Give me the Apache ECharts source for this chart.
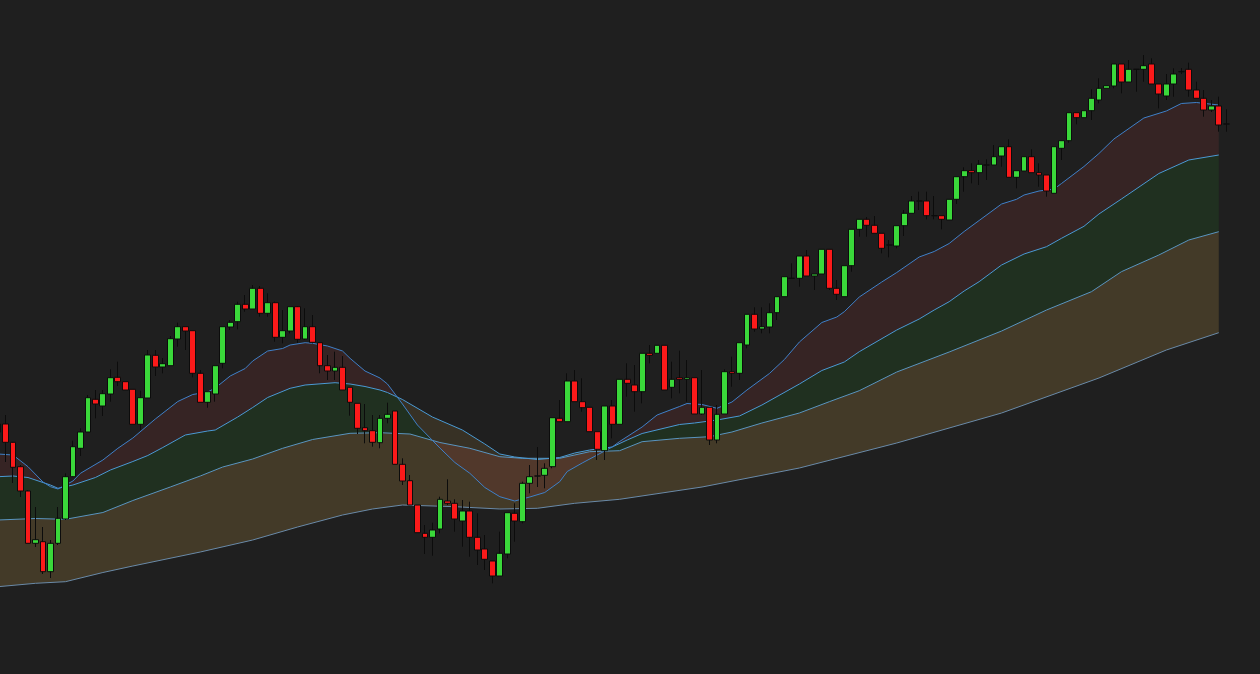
<!DOCTYPE html>
<html>
<head>
<meta charset="utf-8">
<script src="https://cdn.jsdelivr.net/npm/echarts@6/dist/echarts.min.js"></script>
<style>
html,body{margin:0;padding:0;background:#1f1f1f;}
#chart{width:1260px;height:674px;}
</style>
</head>
<body>
<div id="chart"></div>
<script>
// Candle values (price units, higher = up)
var opens = [241.7,250,231.7,207.3,183,130.7,132.3,102.3,130.7,155,197.3,225.7,242,274.7,268,280,296.7,292.3,284.7,249.7,
276,318.7,307,308.3,335,347.3,343.3,300.7,271.7,280,310.7,347,352.3,369.7,365,385.7,360.7,371.3,336.7,343,
367.3,335,347.3,331.3,308.3,303,306.7,286.7,270.7,246.3,243.3,231.3,255.7,263,209.7,193.3,169,140.7,136.7,145,
173,170.7,153,163,136.7,125,113,98,120,160.7,152.3,190.7,198,198.7,207.3,255.7,252.3,293,272.3,266.7,
242.3,223.3,268,249.7,294.7,289,282.3,320.7,320.7,328.7,286.7,296.3,294.7,296.3,260,266.7,234,260,302.3,300.7,
329,359.7,345,347,361.3,377.3,395.7,395.7,418,398,400,424.7,385.7,377.3,408.3,444.7,454.7,448.7,440.7,429,
428,448.3,460.7,473,473,458.3,458.3,454,474.7,497.3,503.3,501.3,509,509,518,527.3,496.7,503,517.3,501.3,
499,480.7,525.7,533.3,561.3,556.3,563.3,574,585.7,588,610,592,604.7,604.7,610,590,578,590,602.3,604.7,
584,575.7,564,568,550];
var closes = [250,231.7,206.7,183,130.7,134.3,102.3,130.7,155.7,197.3,227.3,242,276.3,270,280.3,296.3,292.3,284,249.7,276.3,
319,307,310.3,335.3,347.3,343,300.7,271.7,282.3,308.3,347.3,351.7,369.7,365,385.7,360.7,371.3,336.7,343.3,367.3,
334.7,347.3,331.7,308.3,303,306.7,284,271.7,245.7,243.3,231.7,255.7,259.7,209.7,193,169,141.3,136.7,144,174.7,
170.7,155,163,136.7,124,114.7,98,120.7,161.3,153,190.7,197.3,198,205.7,256.3,252.3,293,272.3,266.3,242.3,
224.7,268,249.7,294.7,290.7,282.3,320.7,318.7,328.7,284,294.7,294.7,296.3,260,266.7,234,259.7,302.3,300.7,331.3,
359.7,345,347.3,361.3,377.3,397.3,395.7,418,398,400,424.7,385.7,379.7,408.3,444.7,454.7,448.7,440.7,425.7,429,
448.3,460.7,473,473,458.3,458.3,454.7,474.7,497.3,503.3,501.3,509.7,509,517.3,527.3,496.7,503.3,517.3,501.3,499,
483,527.3,533.3,561.3,556.3,563.3,575.7,585.7,588.3,610,592,604.7,604.7,608.3,590,580,590,600,602.3,584,
575.7,564,568,549,550];
var lows = [240,212,191,177,130.7,127,100,96,129,154,197,218,242,255.7,258,272.3,288,284,249.7,244,
276,298,300.7,308.3,327.3,324,296.7,271.7,266.3,272.3,305.7,344,344.7,362.3,365,357.3,357.3,332.3,330.7,340.7,
331,334,330.7,300.7,294,294,284,258.3,240,230.7,227.3,225.7,250.7,209.7,189,169,141.3,120,118.3,140.7,
169,142.3,127.3,117.3,109,104,90.7,98,115.7,132.3,150.7,180.7,187,185.7,205.7,252.3,252.3,272.3,262.3,242.3,
214,214,235.7,249.7,277.3,262.3,270.7,310.7,320.7,284,275.7,280.7,272.3,260,259,229,230.7,260,287.3,294,
325.7,342.3,340.7,340.7,354,377.3,395,387.3,398,384,400,384,374,377.3,402.3,437.3,437.3,440.7,420.7,416.7,
425.7,438,460.7,464,454.7,454.7,444.7,454,470,482.3,490.7,489,494,509,507.3,496.7,485.7,503,501.3,487.3,
477.3,480.7,514,531.3,549.7,556.3,554,570.7,585.7,585.7,580.7,592,582.3,592.3,590,565.7,574,577.3,600,577.3,
575.7,557.3,562,542.3,542.3];
var highs = [254,259,232,209,184,167,147,134,167,200.7,233.3,245.7,279,284,284,304.7,312.3,292.3,284.7,283.3,
324,324,316,338,351.3,347.3,343.3,304,282.3,308.3,347.3,354,372.3,379,389,388,380.7,372.5,364,367.3,
368,365.7,359,331.3,319,322.3,318,286.7,270.7,270,259,259,271.3,263,215.7,199,169,149,151.3,177.3,
194.7,174.7,174,172.3,160.7,139,113,142.3,161.3,170.7,192.3,209,227,210.7,256.3,274,300.7,304,295.7,266.7,
242.3,268,274,294.7,310.7,309,320.7,329,328.7,328.7,312.3,323.3,314,296.3,304,266.7,269,304.7,317.3,331.3,
359.7,366.7,366.7,370.7,377.3,397.3,410.7,418,424,400,424.7,424.7,394,408.3,444.7,454.7,457,458,440.7,434,
448.3,464,478,482.3,482.3,478,458.3,474.7,497.3,506.7,510.7,514,514.7,529,527.3,534.7,503.3,517.3,524.7,510.7,
499,527.3,533.3,561.3,561.3,563.3,584.7,595.7,588.3,610,610,614,604.7,619,615.7,590,600,605.7,606,611.3,
592.3,584,574,577.3,564.7];

// Moving-average lines, read as [candle index, value]
var ma1 = [[0,220],[2,219],[4,207.3],[6,192],[7,187.3],[8,185],[10,193],[11,200.7],[14,214],[16,225.7],[18,236],[21,255],[24,272.5],[26,279.5],[28,282],[29,286],[31,298],[33,305.5],[34,313],[36,323],[38,325.5],[39,329],[41,331.3],[42,330.7],[44,328],[46,323],[47,315.7],[49,303],[51,296],[52,290],[54,270],[56,249],[59,226],[61,211.5],[63,200.7],[65,186.5],[67,177.3],[69,173],[71,177],[73,181.5],[75,192.3],[76,202.5],[78,211],[80,219],[82,227],[83,232.5],[86,247],[88,259],[91,267.5],[92,270.5],[94,269.5],[96,265.7],[98,272],[100,284],[103,300.5],[105,314.5],[107,332],[110,351.5],[112,357],[113,362.3],[115,377],[118,392],[120,401.5],[123,417],[125,422.5],[127,430.5],[129,442.5],[131,453.5],[134,470],[136,474.7],[137,479],[139,483],[141,485],[142,490.5],[145,507.5],[147,520.5],[149,535],[153,556],[156,563],[158,570.5],[160,571.5],[163,569]];
var ma2 = [[0,197.3],[2,198],[4,196.5],[7,189],[8,185.7],[10,189],[13,196.5],[15,204],[18,212.5],[20,218.5],[22,226.5],[25,239],[28,243],[29,244],[32,257],[34,266.5],[36,276.5],[39,285.7],[41,289],[45,291.3],[47,290],[49,287.5],[51,284],[52,281.5],[54,274.5],[58,257],[62,244],[65,230],[67,220],[69,217],[72,214.5],[75,216.5],[77,221],[79,224],[82,227],[84,234],[86,240.5],[91,249.5],[93,251],[96,254],[99,258],[102,269],[107,290],[110,303.5],[113,312],[115,322.3],[120,344],[123,355],[125,364],[127,372.3],[129,383],[131,392.3],[134,409],[137,420],[140,427.3],[142,435.7],[145,447.7],[147,460],[150,475],[155,500.5],[159,514],[163,519]];
var ma3 = [[0,154],[5,155.5],[9,154.7],[14,161.5],[18,173.5],[23,187],[27,198],[30,207],[34,215],[38,225.7],[42,234.5],[47,240.7],[51,241.3],[55,240],[59,231.5],[63,225.7],[67,217.3],[70,215.7],[75,215.7],[79,222.3],[83,223.3],[86,232.3],[91,235.7],[95,237.3],[98,242],[102,251],[107,261],[111,272.3],[115,283.3],[120,302],[127,322],[134,343],[140,364],[146,382.3],[150,402.3],[155,419],[159,434],[163,442.3]];
var ma4 = [[0,87.3],[5,90.7],[9,92.3],[14,101.5],[18,108],[27,122],[34,134],[40,147],[46,159],[50,165],[54,169],[61,167.3],[67,165],[72,165.7],[77,170.7],[83,174.7],[94,187],[107,206],[120,231],[134,261],[147,296],[156,324],[163,341.3]];

var cats = opens.map(function(_, i){ return i; });
var candles = opens.map(function(o, i){ return [o, closes[i], lows[i], highs[i]]; });

function band(upper, lower, color, z) {
  return {
    type: 'custom', silent: true, z: z, clip: false,
    data: [[0, 0]],
    renderItem: function (params, api) {
      var pts = [];
      for (var k = 0; k < upper.length; k++) pts.push(api.coord(upper[k]));
      for (var j = lower.length - 1; j >= 0; j--) pts.push(api.coord(lower[j]));
      return { type: 'polygon', shape: { points: pts }, style: { fill: color } };
    }
  };
}
function maLine(data, color) {
  return { type: 'line', data: data, showSymbol: false, symbol: 'none', silent: true, z: 4, clip: false,
    lineStyle: { color: color, width: 1 } };
}

var chart = echarts.init(document.getElementById('chart'));
chart.setOption({
  backgroundColor: '#1f1f1f',
  animation: false,
  grid: { left: -5.7, right: 30, top: 0, bottom: 0, containLabel: false, outerBoundsMode: 'none' },
  xAxis: { type: 'category', data: cats, show: false, boundaryGap: true },
  yAxis: { type: 'value', min: 0, max: 674, show: false, splitLine: { show: false } },
  series: [
    band(ma3, ma4, 'rgba(134,108,57,0.35)', 1),
    band(ma2, ma3, 'rgba(35,99,35,0.25)', 2),
    band(ma1, ma2, 'rgba(125,52,52,0.25)', 3),
    maLine(ma4, '#6a8aa8'),
    maLine(ma3, '#5a95c0'),
    maLine(ma2, '#4a9ad4'),
    maLine(ma1, '#3f80c8'),
    {
      type: 'candlestick', data: candles, barWidth: 6.3, z: 10, clip: false,
      itemStyle: { color: '#3ad83a', color0: '#fb1a1a', borderColor: '#0c0c0c', borderColor0: '#0c0c0c', borderWidth: 1 }
    }
  ]
});
</script>
</body>
</html>
